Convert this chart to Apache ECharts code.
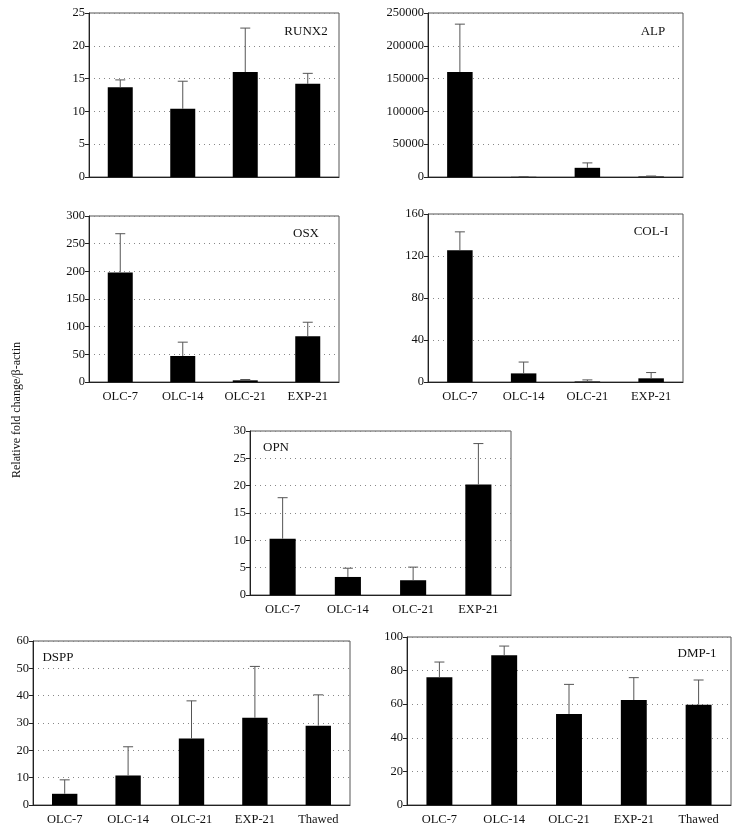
<!DOCTYPE html>
<html>
<head>
<meta charset="utf-8">
<script src="https://cdn.jsdelivr.net/npm/echarts@6/dist/echarts.min.js"></script>
<style>
html,body{margin:0;padding:0;background:#fff;}
#chart{width:740px;height:831px;}
</style>
</head>
<body>
<div id="chart"></div>
<script>
// ---- Data ----
const categories4 = ['OLC-7', 'OLC-14', 'OLC-21', 'EXP-21'];
const categories5 = ['OLC-7', 'OLC-14', 'OLC-21', 'EXP-21', 'Thawed'];

const runx2Mean = [13.7, 10.4, 16.0, 14.2];
const runx2Upper = [14.8, 14.6, 22.7, 15.8];

const alpMean = [160000, 300, 14000, 800];
const alpUpper = [233000, 500, 21500, 1500];

const osxMean = [198, 47, 3, 82.5];
const osxUpper = [268, 72, 4.5, 108];

const col1Mean = [125.5, 8.2, 0.5, 3.5];
const col1Upper = [143, 19, 2, 9];

const opnMean = [10.3, 3.3, 2.7, 20.2];
const opnUpper = [17.8, 4.9, 5.1, 27.7];

const dsppMean = [4.1, 10.8, 24.3, 31.9, 29.0];
const dsppUpper = [9.2, 21.3, 38.1, 50.7, 40.3];

const dmp1Mean = [76.0, 89.1, 54.2, 62.5, 59.7];
const dmp1Upper = [85.1, 94.6, 71.8, 75.8, 74.4];

const yMax = [25, 250000, 300, 160, 30, 60, 100];
const yInterval = [5, 50000, 50, 40, 5, 10, 20];
const panelNames = ['RUNX2', 'ALP', 'OSX', 'COL-I', 'OPN', 'DSPP', 'DMP-1'];
const yTitle = 'Relative fold change/\u03B2-actin';

// ---- Layout ----
const FONT = '"Liberation Serif", "DejaVu Serif", serif';
const panels = [
  {cats: categories4, mean: runx2Mean, upper: runx2Upper, grid: {left: 89, top: 13, width: 250, height: 164}, showX: false, label: {x: 306, y: 32}},
  {cats: categories4, mean: alpMean, upper: alpUpper, grid: {left: 428, top: 13, width: 255, height: 164}, showX: false, label: {x: 653, y: 32}},
  {cats: categories4, mean: osxMean, upper: osxUpper, grid: {left: 89, top: 216, width: 250, height: 166}, showX: true, label: {x: 306, y: 234}},
  {cats: categories4, mean: col1Mean, upper: col1Upper, grid: {left: 428, top: 214, width: 255, height: 168}, showX: true, label: {x: 651, y: 232}},
  {cats: categories4, mean: opnMean, upper: opnUpper, grid: {left: 250, top: 431, width: 261, height: 164}, showX: true, label: {x: 276, y: 448}},
  {cats: categories5, mean: dsppMean, upper: dsppUpper, grid: {left: 33, top: 641, width: 317, height: 164}, showX: true, label: {x: 58, y: 658}},
  {cats: categories5, mean: dmp1Mean, upper: dmp1Upper, grid: {left: 407, top: 637, width: 324, height: 168}, showX: true, label: {x: 697, y: 654}}
];

function renderErr(params, api) {
  const xi = api.value(0);
  const base = api.coord([xi, api.value(1)]);
  const top = api.coord([xi, api.value(2)]);
  const half = 5;
  const st = {stroke: '#555', lineWidth: 1};
  return {
    type: 'group',
    children: [
      {type: 'line', shape: {x1: base[0], y1: base[1], x2: base[0], y2: top[1]}, style: st},
      {type: 'line', shape: {x1: base[0] - half, y1: top[1], x2: base[0] + half, y2: top[1]}, style: st}
    ]
  };
}

const grids = [], xAxes = [], yAxes = [], series = [], graphics = [];
panels.forEach((p, i) => {
  grids.push(Object.assign({show: true, borderColor: '#555', borderWidth: 1, backgroundColor: 'transparent'}, p.grid));
  xAxes.push({
    type: 'category', gridIndex: i, data: p.cats,
    axisLine: {show: true, lineStyle: {color: '#222', width: 1}},
    axisTick: {show: false},
    axisLabel: {show: p.showX, color: '#111', fontFamily: FONT, fontSize: 12.5, margin: 8}
  });
  yAxes.push({
    type: 'value', gridIndex: i, min: 0, max: yMax[i], interval: yInterval[i],
    axisLine: {show: true, lineStyle: {color: '#222', width: 1}},
    axisTick: {show: true, length: 4, lineStyle: {color: '#222'}},
    axisLabel: {color: '#111', fontFamily: FONT, fontSize: 12.5, margin: 4, formatter: v => String(v)},
    splitLine: {show: true, lineStyle: {color: '#888', type: [1, 4], width: 1}}
  });
  series.push({
    type: 'bar', xAxisIndex: i, yAxisIndex: i, data: p.mean,
    barWidth: '40%', itemStyle: {color: '#000'}, silent: true, animation: false
  });
  series.push({
    type: 'custom', xAxisIndex: i, yAxisIndex: i,
    data: p.mean.map((m, k) => [k, m, p.upper[k]]),
    renderItem: renderErr, silent: true, animation: false, z: 3
  });
  graphics.push({
    type: 'text', x: p.label.x, y: p.label.y,
    style: {text: panelNames[i], fill: '#111', font: '13px ' + FONT, textAlign: 'center', textVerticalAlign: 'middle'}
  });
});

graphics.push({
  type: 'text', x: 17, y: 410, rotation: Math.PI / 2,
  style: {text: yTitle, fill: '#111', font: '12px ' + FONT, textAlign: 'center', textVerticalAlign: 'middle'}
});

const chart = echarts.init(document.getElementById('chart'), null, {renderer: 'canvas'});
chart.setOption({
  animation: false,
  backgroundColor: '#fff',
  grid: grids,
  xAxis: xAxes,
  yAxis: yAxes,
  series: series,
  graphic: graphics
});
</script>
</body>
</html>
